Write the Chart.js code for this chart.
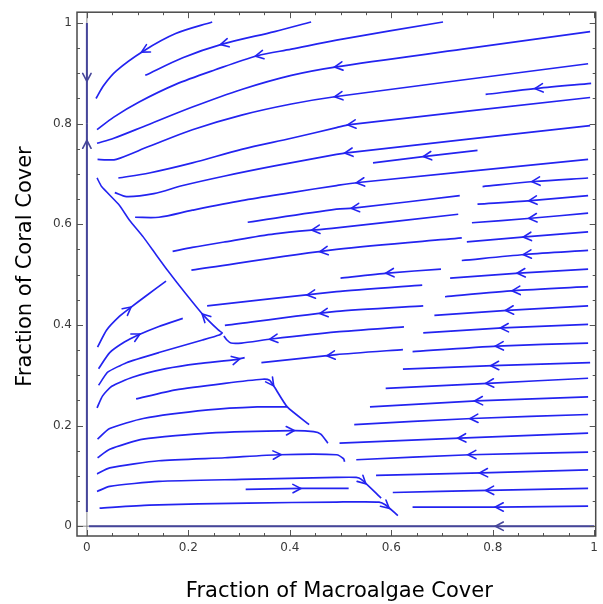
<!DOCTYPE html>
<html>
<head>
<meta charset="utf-8">
<script src="https://cdn.jsdelivr.net/npm/chart.js@4.4.1/dist/chart.umd.min.js"></script>
<style>
  html, body { margin: 0; padding: 0; background: #fff; }
  #wrap { width: 603px; height: 604px; position: relative; }
</style>
</head>
<body>
<div id="wrap"><canvas id="flow"></canvas></div>
<script>
// axis ranges and ticks
const xRange = [-0.0195, 1.003];
const yRange = [-0.0195, 1.0215];
const majorTicks = [0, 0.2, 0.4, 0.6, 0.8, 1];
const majorLabels = ["0", "0.2", "0.4", "0.6", "0.8", "1"];
const minorTicks = [0.05, 0.1, 0.15, 0.25, 0.3, 0.35, 0.45, 0.5, 0.55, 0.65, 0.7, 0.75, 0.85, 0.9, 0.95];
const xTitle = "Fraction of Macroalgae Cover";
const yTitle = "Fraction of Coral Cover";

// streamlines, points listed in the direction of flow; arrow = where the arrowhead sits
const upperLines = [
  { pts: [[0.247,1.002],[0.175,0.979],[0.111,0.944],[0.058,0.905],[0.033,0.876],[0.018,0.850]], arrow: [0.111,0.944] },
  { pts: [[0.442,1.002],[0.370,0.983],[0.267,0.958],[0.189,0.931],[0.115,0.896]], arrow: [0.267,0.958] },
  { pts: [[0.702,1.002],[0.492,0.966],[0.403,0.948],[0.336,0.935],[0.253,0.907],[0.175,0.878],[0.103,0.843],[0.053,0.813],[0.020,0.788]], arrow: [0.336,0.935] },
  { pts: [[0.992,0.983],[0.741,0.948],[0.492,0.913],[0.403,0.896],[0.305,0.868],[0.208,0.833],[0.111,0.794],[0.053,0.771],[0.020,0.761]], arrow: [0.492,0.913] },
  { pts: [[0.988,0.919],[0.492,0.854],[0.403,0.839],[0.305,0.817],[0.208,0.788],[0.123,0.755],[0.058,0.729],[0.039,0.728],[0.021,0.729]], arrow: [0.492,0.854] },
  { pts: [[0.994,0.880],[0.887,0.870],[0.786,0.858]], arrow: [0.887,0.870] },
  { pts: [[0.992,0.852],[0.518,0.798],[0.492,0.792],[0.403,0.771],[0.305,0.749],[0.208,0.722],[0.123,0.702],[0.062,0.692]], arrow: [0.518,0.798] },
  { pts: [[0.992,0.796],[0.512,0.742],[0.492,0.739],[0.370,0.716],[0.272,0.696],[0.189,0.677],[0.132,0.661],[0.078,0.655],[0.055,0.663]], arrow: [0.512,0.742] },
  { pts: [[0.770,0.747],[0.667,0.735],[0.564,0.722]], arrow: [0.667,0.735] },
  { pts: [[0.988,0.729],[0.535,0.683],[0.492,0.677],[0.403,0.663],[0.305,0.647],[0.208,0.628],[0.142,0.614],[0.095,0.614]], arrow: [0.535,0.683] },
  { pts: [[0.988,0.692],[0.881,0.685],[0.780,0.675]], arrow: [0.881,0.685] },
  { pts: [[0.735,0.657],[0.525,0.632],[0.492,0.630],[0.317,0.604]], arrow: [0.525,0.632] },
  { pts: [[0.988,0.657],[0.875,0.647],[0.770,0.640]], arrow: [0.875,0.647] },
  { pts: [[0.732,0.620],[0.492,0.593],[0.370,0.581],[0.272,0.565],[0.208,0.554],[0.169,0.546]], arrow: [0.447,0.589] },
  { pts: [[0.988,0.622],[0.875,0.612],[0.759,0.603]], arrow: [0.875,0.612] },
  { pts: [[0.739,0.573],[0.492,0.550],[0.206,0.509]], arrow: [0.463,0.546] },
  { pts: [[0.988,0.585],[0.864,0.575],[0.749,0.565]], arrow: [0.864,0.575] },
  { pts: [[0.988,0.548],[0.864,0.540],[0.739,0.528]], arrow: [0.864,0.540] },
];

const lowerLines = [
  { pts: [[0.698,0.511],[0.593,0.503],[0.500,0.493]], arrow: [0.593,0.503] },
  { pts: [[0.988,0.511],[0.852,0.503],[0.716,0.493]], arrow: [0.852,0.503] },
  { pts: [[0.661,0.479],[0.492,0.466],[0.237,0.438]], arrow: [0.438,0.460] },
  { pts: [[0.988,0.476],[0.842,0.468],[0.706,0.456]], arrow: [0.842,0.468] },
  { pts: [[0.663,0.438],[0.492,0.427],[0.272,0.399]], arrow: [0.463,0.423] },
  { pts: [[0.988,0.438],[0.829,0.429],[0.685,0.419]], arrow: [0.829,0.429] },
  { pts: [[0.625,0.396],[0.492,0.386],[0.364,0.372],[0.305,0.364],[0.284,0.364],[0.276,0.370],[0.270,0.378]], arrow: [0.364,0.372] },
  { pts: [[0.988,0.401],[0.819,0.394],[0.663,0.384]], arrow: [0.819,0.394] },
  { pts: [[0.623,0.351],[0.492,0.341],[0.344,0.325]], arrow: [0.477,0.339] },
  { pts: [[0.988,0.364],[0.809,0.358],[0.642,0.347]], arrow: [0.809,0.358] },
  { pts: [[0.992,0.325],[0.800,0.319],[0.623,0.312]], arrow: [0.800,0.319] },
  { pts: [[0.988,0.294],[0.790,0.284],[0.589,0.274]], arrow: [0.790,0.284] },
  { pts: [[0.988,0.257],[0.768,0.249],[0.558,0.237]], arrow: [0.768,0.249] },
  { pts: [[0.988,0.222],[0.759,0.214],[0.527,0.202]], arrow: [0.759,0.214] },
  { pts: [[0.988,0.185],[0.735,0.175],[0.498,0.165]], arrow: [0.735,0.175] },
  { pts: [[0.988,0.147],[0.755,0.142],[0.531,0.132]], arrow: [0.755,0.142] },
  { pts: [[0.988,0.112],[0.778,0.106],[0.570,0.101]], arrow: [0.778,0.106] },
  { pts: [[0.988,0.075],[0.790,0.071],[0.603,0.067]], arrow: [0.790,0.071] },
  { pts: [[0.988,0.040],[0.809,0.038],[0.642,0.038]], arrow: [0.809,0.038] },
];

const rightwardLines = [
  { pts: [[0.021,0.356],[0.039,0.390],[0.064,0.417],[0.084,0.433],[0.117,0.458],[0.156,0.487]], arrow: [0.084,0.433] },
  { pts: [[0.023,0.313],[0.045,0.345],[0.074,0.366],[0.101,0.380],[0.142,0.397],[0.189,0.413]], arrow: [0.101,0.380] },
  { pts: [[0.020,0.235],[0.031,0.259],[0.049,0.278],[0.090,0.296],[0.156,0.313],[0.220,0.323],[0.294,0.331],[0.311,0.335]], arrow: [0.298,0.332] },
  { pts: [[0.097,0.253],[0.175,0.271],[0.272,0.284],[0.346,0.292],[0.360,0.290],[0.370,0.276],[0.395,0.237],[0.438,0.202]], arrow: [0.366,0.282] },
  { pts: [[0.021,0.173],[0.045,0.194],[0.111,0.214],[0.239,0.231],[0.336,0.237],[0.395,0.237]], arrow: null },
  { pts: [[0.021,0.136],[0.045,0.153],[0.111,0.173],[0.239,0.185],[0.405,0.190],[0.447,0.188],[0.461,0.183],[0.475,0.165]], arrow: [0.405,0.190] },
  { pts: [[0.020,0.104],[0.045,0.116],[0.142,0.130],[0.272,0.136],[0.379,0.142],[0.492,0.142],[0.506,0.134],[0.508,0.128]], arrow: [0.379,0.142] },
  { pts: [[0.020,0.069],[0.045,0.079],[0.142,0.089],[0.305,0.093],[0.492,0.097],[0.531,0.097],[0.541,0.093],[0.580,0.056]], arrow: [0.547,0.087] },
  { pts: [[0.025,0.036],[0.123,0.042],[0.317,0.046],[0.492,0.048],[0.576,0.048],[0.589,0.042],[0.613,0.021]], arrow: [0.593,0.038] },
  { pts: [[0.313,0.073],[0.422,0.075],[0.516,0.075]], arrow: [0.418,0.075] },
];

// comes in from the lower left, turns at the saddle and runs up to the left
const separatrix = [
  { pts: [[0.023,0.280],[0.041,0.306],[0.078,0.325],[0.142,0.345],[0.228,0.370],[0.261,0.380],[0.267,0.384],[0.259,0.390],
          [0.230,0.419],[0.195,0.462],[0.160,0.507],[0.136,0.540],[0.111,0.575],[0.084,0.608],[0.064,0.638],[0.029,0.675],[0.020,0.692]],
    arrow: [0.230,0.419] },
];

// invariant edges x = 0 and y = 0
const edgeLines = [
  { pts: [[0,1.0],[0,0.8]], arrow: [0,0.888] },
  { pts: [[0,0.028],[0,0.8]], arrow: [0,0.763] },
  { pts: [[1.0,0],[0.004,0]], arrow: [0.809,0] },
];

const flowColor = "#2323f0";
const edgeColor = "#45459a";

function toDataset(line, color, width, tension) {
  return {
    data: line.pts.map(([x, y]) => ({ x, y })),
    showLine: true,
    pointRadius: 0,
    pointHoverRadius: 0,
    borderColor: color,
    borderWidth: width,
    tension: tension,
    fill: false,
    arrow: line.arrow,
  };
}

const datasets = [
  ...upperLines.map((l) => toDataset(l, flowColor, 1.7, 0.3)),
  ...lowerLines.map((l) => toDataset(l, flowColor, 1.7, 0.2)),
  ...rightwardLines.map((l) => toDataset(l, flowColor, 1.7, 0.2)),
  ...separatrix.map((l) => toDataset(l, flowColor, 1.6, 0.15)),
  ...edgeLines.map((l) => toDataset(l, edgeColor, 2, 0)),
];

const framePlugin = {
  id: "frame",
  beforeDatasetsDraw(chart) {
    const { ctx, chartArea: a, scales } = chart;
    const x0 = scales.x.getPixelForValue(0);
    const y0 = scales.y.getPixelForValue(0);
    ctx.save();
    ctx.strokeStyle = "#8a8a8a";
    ctx.lineWidth = 1;
    ctx.beginPath();
    ctx.moveTo(x0, a.top);
    ctx.lineTo(x0, a.bottom);
    ctx.moveTo(a.left, y0);
    ctx.lineTo(a.right, y0);
    ctx.stroke();
    ctx.restore();
  },
  afterDatasetsDraw(chart) {
    const { ctx, scales } = chart;
    // arrowheads along each streamline
    chart.data.datasets.forEach((ds) => {
      if (!ds.arrow) return;
      const px = scales.x.getPixelForValue(ds.arrow[0]);
      const py = scales.y.getPixelForValue(ds.arrow[1]);
      const pts = ds.data.map((p) => [scales.x.getPixelForValue(p.x), scales.y.getPixelForValue(p.y)]);
      let best = null, bestD = Infinity;
      for (let i = 0; i < pts.length - 1; i++) {
        const [ax, ay] = pts[i], [bx, by] = pts[i + 1];
        const dx = bx - ax, dy = by - ay;
        const len2 = dx * dx + dy * dy || 1;
        let t = ((px - ax) * dx + (py - ay) * dy) / len2;
        t = Math.max(0, Math.min(1, t));
        const cx = ax + t * dx, cy = ay + t * dy;
        const d = Math.hypot(px - cx, py - cy);
        if (d < bestD) { bestD = d; best = { cx, cy, dx, dy }; }
      }
      const n = Math.hypot(best.dx, best.dy) || 1;
      const ux = best.dx / n, uy = best.dy / n;
      const tipX = px + ux * 2, tipY = py + uy * 2;
      const L = 8, W = 4.2;
      ctx.save();
      ctx.strokeStyle = ds.borderColor;
      ctx.lineWidth = 1.6;
      ctx.lineCap = "round";
      ctx.lineJoin = "miter";
      ctx.beginPath();
      ctx.moveTo(tipX - ux * L - uy * W, tipY - uy * L + ux * W);
      ctx.lineTo(tipX, tipY);
      ctx.lineTo(tipX - ux * L + uy * W, tipY - uy * L - ux * W);
      ctx.stroke();
      ctx.restore();
    });
  },
  afterDraw(chart) {
    const { ctx, chartArea: a, scales } = chart;
    ctx.save();
    ctx.strokeStyle = "#555";
    ctx.lineWidth = 1;
    // inward ticks on all four sides
    const drawTicks = (values, len) => {
      values.forEach((v) => {
        const xp = Math.round(scales.x.getPixelForValue(v)) + 0.5;
        const yp = Math.round(scales.y.getPixelForValue(v)) + 0.5;
        ctx.beginPath();
        ctx.moveTo(xp, a.bottom); ctx.lineTo(xp, a.bottom - len);
        ctx.moveTo(xp, a.top); ctx.lineTo(xp, a.top + len);
        ctx.moveTo(a.left, yp); ctx.lineTo(a.left + len, yp);
        ctx.moveTo(a.right, yp); ctx.lineTo(a.right - len, yp);
        ctx.stroke();
      });
    };
    drawTicks(majorTicks, 6);
    drawTicks(minorTicks, 3);
    ctx.strokeStyle = "#4a4a4a";
    ctx.lineWidth = 1.5;
    ctx.strokeRect(a.left, a.top, a.right - a.left, a.bottom - a.top);

    ctx.fillStyle = "#000";
    ctx.font = '21px "DejaVu Sans"';
    ctx.textAlign = "center";
    ctx.textBaseline = "alphabetic";
    ctx.fillText(xTitle, (a.left + a.right) / 2 + 3, 597);
    ctx.translate(30.5, 266.5);
    ctx.rotate(-Math.PI / 2);
    ctx.fillText(yTitle, 0, 0);
    ctx.restore();
  },
};

const tickFont = { family: "DejaVu Sans", size: 12 };
const tickText = (v) => {
  const i = majorTicks.findIndex((t) => Math.abs(t - v) < 1e-9);
  return i >= 0 ? majorLabels[i] : "";
};

new Chart(document.getElementById("flow"), {
  type: "scatter",
  data: { datasets },
  options: {
    responsive: true,
    maintainAspectRatio: false,
    animation: false,
    events: [],
    layout: { padding: { top: 3, right: 1, left: 0, bottom: 0 } },
    plugins: { legend: { display: false }, tooltip: { enabled: false } },
    scales: {
      x: {
        type: "linear",
        min: xRange[0],
        max: xRange[1],
        afterFit: (s) => { s.height = 68; },
        afterBuildTicks: (s) => { s.ticks = majorTicks.map((v) => ({ value: v })); },
        grid: { display: false, drawTicks: false },
        border: { display: false },
        ticks: { padding: 5, font: tickFont, color: "#3a3a3a", callback: tickText, maxRotation: 0, autoSkip: false },
      },
      y: {
        type: "linear",
        min: yRange[0],
        max: yRange[1],
        afterFit: (s) => { s.width = 77; },
        afterBuildTicks: (s) => { s.ticks = majorTicks.map((v) => ({ value: v })); },
        grid: { display: false, drawTicks: false },
        border: { display: false },
        ticks: { padding: 5, font: tickFont, color: "#3a3a3a", callback: tickText, autoSkip: false },
      },
    },
  },
  plugins: [framePlugin],
});
</script>
</body>
</html>
